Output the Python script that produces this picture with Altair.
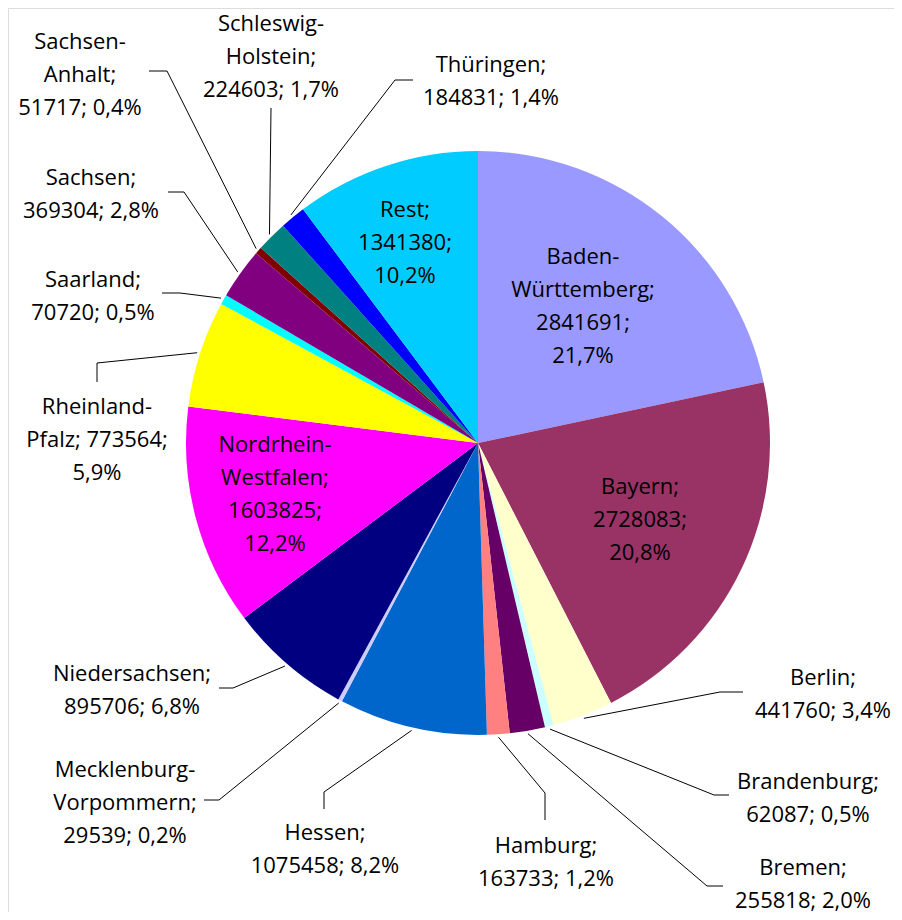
import math
import altair as alt
import pandas as pd

# ---------------- data ----------------
names = ["Baden-Württemberg", "Bayern", "Berlin", "Brandenburg", "Bremen", "Hamburg",
         "Hessen", "Mecklenburg-Vorpommern", "Niedersachsen", "Nordrhein-Westfalen",
         "Rheinland-Pfalz", "Saarland", "Sachsen", "Sachsen-Anhalt",
         "Schleswig-Holstein", "Thüringen", "Rest"]
values = [2841691, 2728083, 441760, 62087, 255818, 163733, 1075458, 29539, 895706,
          1603825, 773564, 70720, 369304, 51717, 224603, 184831, 1341380]
colors = ["#9999FF", "#993366", "#FFFFCC", "#CCFFFF", "#660066", "#FF8080", "#0066CC",
          "#CCCCFF", "#000080", "#FF00FF", "#FFFF00", "#00FFFF", "#800080", "#800000",
          "#008080", "#0000FF", "#00CCFF"]

# how each label text is broken into lines (text content)
label_breaks = {
    "Baden-Württemberg": ["Baden-", "Württemberg;", "{v};", "{p}"],
    "Bayern": ["Bayern;", "{v};", "{p}"],
    "Berlin": ["Berlin;", "{v};  {p}"],
    "Brandenburg": ["Brandenburg;", "{v}; {p}"],
    "Bremen": ["Bremen;", "{v}; {p}"],
    "Hamburg": ["Hamburg;", "{v}; {p}"],
    "Hessen": ["Hessen;", "{v}; {p}"],
    "Mecklenburg-Vorpommern": ["Mecklenburg-", "Vorpommern;", "{v}; {p}"],
    "Niedersachsen": ["Niedersachsen;", "{v}; {p}"],
    "Nordrhein-Westfalen": ["Nordrhein-", "Westfalen;", "{v};", "{p}"],
    "Rheinland-Pfalz": ["Rheinland-", "Pfalz; {v};", "{p}"],
    "Saarland": ["Saarland;", "{v}; {p}"],
    "Sachsen": ["Sachsen;", "{v}; {p}"],
    "Sachsen-Anhalt": ["Sachsen-", "Anhalt;", "{v}; {p}"],
    "Schleswig-Holstein": ["Schleswig-", "Holstein;", "{v}; {p}"],
    "Thüringen": ["Thüringen;", "{v}; {p}"],
    "Rest": ["Rest;", "{v};", "{p}"],
}

# ---------------- layout (pixels, relative to pie centre) ----------------
R = 292
LINE_H = 33
label_pos = {
    "Baden-Württemberg": (105, -137), "Bayern": (162, 77), "Berlin": (345, 251),
    "Brandenburg": (330, 355), "Bremen": (325, 441), "Hamburg": (68, 419),
    "Hessen": (-153, 406), "Mecklenburg-Vorpommern": (-353, 360),
    "Niedersachsen": (-346, 247), "Nordrhein-Westfalen": (-203, 51),
    "Rheinland-Pfalz": (-381, -3), "Saarland": (-385, -147), "Sachsen": (-387, -249),
    "Sachsen-Anhalt": (-398, -368), "Schleswig-Holstein": (-207, -386),
    "Thüringen": (13, -362), "Rest": (-73, -200),
}
# leader lines: elbow point, end point
leaders = {
    "Berlin": ((242, 249), (265, 249)),
    "Brandenburg": ((236, 352), (251, 352)),
    "Bremen": ((229, 443), (245, 443)),
    "Hamburg": ((67, 350), (67, 377)),
    "Hessen": ((-154, 349), (-154, 366)),
    "Mecklenburg-Vorpommern": ((-259, 357), (-274, 357)),
    "Niedersachsen": ((-245, 245), (-259, 245)),
    "Rheinland-Pfalz": ((-381, -80), (-381, -61)),
    "Saarland": ((-298, -150), (-316, -150)),
    "Sachsen": ((-294, -251), (-310, -251)),
    "Sachsen-Anhalt": ((-311, -372), (-329, -372)),
    "Schleswig-Holstein": ((-207, -335), (-207, -335)),
    "Thüringen": ((-83, -363), (-65, -363)),
}

total = sum(values)
pcts = [f"{v / total * 100:.1f}".replace(".", ",") + "%" for v in values]

pie_df = pd.DataFrame({"name": names, "value": values, "idx": range(len(names)),
                       "cx": 0, "cy": 0})

# mid angles for leader starting points
mid = {}
cum = 0
for n, v in zip(names, values):
    mid[n] = (cum + v / 2) / total * 2 * math.pi
    cum += v

text_rows = []
for n, v, p in zip(names, values, pcts):
    lines = [s.format(v=v, p=p) for s in label_breaks[n]]
    x0, y0 = label_pos[n]
    k = len(lines)
    for i, s in enumerate(lines):
        text_rows.append({"x": x0, "y": y0 + (i - (k - 1) / 2) * LINE_H, "t": s})
text_df = pd.DataFrame(text_rows)

line_rows = []
for n, (elb, end) in leaders.items():
    a = mid[n]
    sx, sy = (R + 3) * math.sin(a), -(R + 3) * math.cos(a)
    for j, (px, py) in enumerate([(sx, sy), elb, end]):
        line_rows.append({"name": n, "pt": j, "x": px, "y": py})
line_df = pd.DataFrame(line_rows)

W, H = 886, 904
xs = alt.Scale(domain=[-470, 416], range=[0, W], nice=False, zero=False)
ys = alt.Scale(domain=[-435, 469], range=[0, H], nice=False, zero=False)

pie = alt.Chart(pie_df).mark_arc(radius=R, stroke=None).encode(
    x=alt.X("cx:Q", scale=xs, axis=None),
    y=alt.Y("cy:Q", scale=ys, axis=None),
    theta=alt.Theta("value:Q", stack=True),
    order=alt.Order("idx:Q"),
    color=alt.Color("name:N", scale=alt.Scale(domain=names, range=colors), legend=None),
)

lines = alt.Chart(line_df).mark_line(color="#000000", strokeWidth=1).encode(
    x=alt.X("x:Q", scale=xs, axis=None),
    y=alt.Y("y:Q", scale=ys, axis=None),
    detail="name:N",
    order=alt.Order("pt:Q"),
)

texts = alt.Chart(text_df).mark_text(
    font="Open Sans", fontSize=22, align="center", baseline="middle", color="#000000"
).encode(
    x=alt.X("x:Q", scale=xs, axis=None),
    y=alt.Y("y:Q", scale=ys, axis=None),
    text="t:N",
)

chart = alt.layer(pie, lines, texts).properties(
    width=W, height=H, autosize="none", padding=0
).configure_view(stroke=None).configure(background="white")

chart.save("out.html", embed_options={"renderer": "svg", "actions": False})
